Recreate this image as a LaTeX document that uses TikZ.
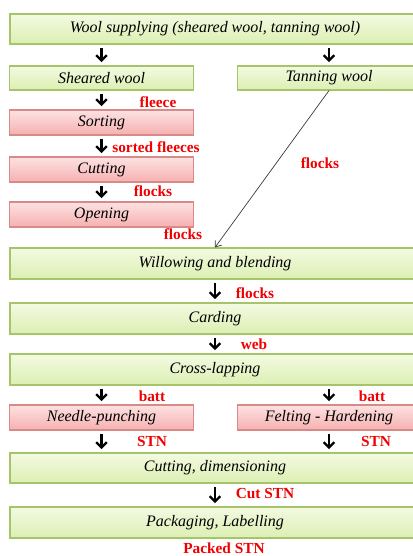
\documentclass[tikz,border=0pt]{standalone}
\usepackage{fontspec}
\setmainfont{Liberation Serif}
\usetikzlibrary{arrows.meta,shadows}

\definecolor{greenline}{HTML}{A6C46A}
\definecolor{greentop}{HTML}{F3FAE2}
\definecolor{greenbot}{HTML}{DCEFB2}
\definecolor{redline}{HTML}{D88A88}
\definecolor{redtop}{HTML}{FDE2E2}
\definecolor{redbot}{HTML}{F6B0B0}
\definecolor{lblred}{HTML}{F00000}

\begin{document}
\begin{tikzpicture}[x=0.75pt,y=-0.75pt]
\useasboundingbox (0,0) rectangle (413,556);
\clip (0,0) rectangle (413,556);

\tikzstyle{greenbox}=[draw=greenline,line width=0.8pt,top color=greentop,bottom color=greenbot,inner sep=0pt,
  drop shadow={opacity=0.2,shadow xshift=0.8pt,shadow yshift=-0.8pt},font=\itshape\fontsize{12}{14}\selectfont]
\tikzstyle{redbox}=[draw=redline,line width=0.8pt,top color=redtop,bottom color=redbot,inner sep=0pt,
  drop shadow={opacity=0.2,shadow xshift=0.8pt,shadow yshift=-0.8pt},font=\itshape\fontsize{12}{14}\selectfont]
\tikzstyle{wide}=[minimum width=307.5pt]
\tikzstyle{half}=[minimum width=137.5pt]
\tikzstyle{lbl}=[text=lblred,inner sep=0pt,font=\bfseries\fontsize{11.5}{13}\selectfont]
\tikzstyle{flow}=[line width=1.7pt,-{Straight Barb[length=4pt,width=8pt]},shorten <=2.5pt,shorten >=2.5pt]
\tikzstyle{thinflow}=[line width=0.5pt,draw=black!80,-{Straight Barb[length=4pt,width=6pt]}]

%Supply row
\node[greenbox,wide,minimum height=22.5pt] (supply) at (215,29) {Wool supplying (sheared wool, tanning wool)};
\node[greenbox,half,minimum height=18pt] (sheared) at (101.5,78) {Sheared wool};
\node[greenbox,half,minimum height=18pt] (tanning) at (329,78) {Tanning wool};

%Left column - Red boxes
\foreach \name/\lab/\y in {sort/Sorting/122.5, cut/Cutting/169.5, open/Opening/214.5}
\node[redbox,half,minimum height=18.75pt] (\name) at (101.5,\y) {\lab};

%Wide rows - Green boxes
\foreach \name/\lab/\y in {willow/Willowing and blending/263.5, card/Carding/318.5, lap/Cross-lapping/369.5}
\node[greenbox,wide,minimum height=23.25pt] (\name) at (215,\y) {\lab};

%Bonding row - Red boxes
\node[redbox,half,minimum height=18.75pt] (needle) at (101.5,417.5) {Needle-punching};
\node[redbox,half,minimum height=18.75pt] (felt) at (329,417.5) {Felting - Hardening};

%Finishing rows
\node[greenbox,wide,minimum height=22.5pt] (dim) at (215,468) {Cutting, dimensioning};
\node[greenbox,wide,minimum height=23.25pt] (pack) at (215,522.5) {Packaging, Labelling};

%Material labels
\foreach \name/\lab/\x/\y in {L-fleece/fleece/158/102, L-sorted/sorted fleeces/156/147, L-flocks1/flocks/153/191,
  L-flocks2/flocks/183/234, L-flocks3/flocks/320/163, L-flocks4/flocks/255/293, L-web/web/254/344,
  L-batt1/batt/152/396, L-batt2/batt/372/396, L-stn1/STN/152/441, L-stn2/STN/376/441,
  L-cut/Cut STN/265/494, L-packed/Packed STN/224/548}
\node[lbl] (\name) at (\x,\y) {\lab};

%Links
\draw[flow] (supply.south -| sheared) -- (sheared);
\draw[flow] (supply.south -| tanning) -- (tanning);
\foreach \from/\to in {sheared/sort, sort/cut, cut/open, willow/card, card/lap, dim/pack}
\draw[flow] (\from) -- (\to);
\draw[flow] (lap.south -| needle) -- (needle);
\draw[flow] (lap.south -| felt) -- (felt);
\draw[flow] (needle) -- (needle |- dim.north);
\draw[flow] (felt) -- (felt |- dim.north);
\draw[thinflow] (tanning.south) -- (willow.north);

\end{tikzpicture}
\end{document}
